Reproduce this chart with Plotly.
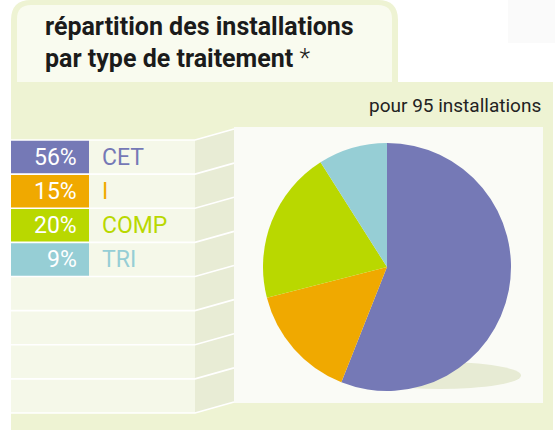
import plotly.graph_objects as go

W, H = 555, 430

categories = ["CET", "I", "COMP", "TRI"]
values = [56, 15, 20, 9]
pct_labels = ["56%", "15%", "20%", "9%"]
colors = ["#7579b6", "#f0a900", "#b9d800", "#96ced5"]
title_lines = ["répartition des installations", "par type de traitement"]
title_mark = "*"
subtitle = "pour 95 installations"

FONT = "Roboto"

def X(px):
    return px / W

def Y(py):
    return 1 - py / H

def poly(pts):
    return "M " + " L ".join(f"{X(a):.5f},{Y(b):.5f}" for a, b in pts) + " Z"

def rrect_top(x0, y0, x1, y1, r):
    # rounded top corners only
    return (f"M {X(x0):.5f},{Y(y1):.5f} L {X(x0):.5f},{Y(y0+r):.5f} "
            f"Q {X(x0):.5f},{Y(y0):.5f} {X(x0+r):.5f},{Y(y0):.5f} "
            f"L {X(x1-r):.5f},{Y(y0):.5f} "
            f"Q {X(x1):.5f},{Y(y0):.5f} {X(x1):.5f},{Y(y0+r):.5f} "
            f"L {X(x1):.5f},{Y(y1):.5f} Z")

shapes = []
def rect(x0, y0, x1, y1, color):
    shapes.append(dict(type="rect", xref="paper", yref="paper", x0=X(x0), x1=X(x1),
                       y0=Y(y1), y1=Y(y0), fillcolor=color, line=dict(width=0), layer="below"))

def path(p, color, line=None):
    shapes.append(dict(type="path", xref="paper", yref="paper", path=p, fillcolor=color,
                       line=line or dict(width=0), layer="below"))

PANEL = "#eef3d3"
# faint top-right block
rect(508, 0, 555, 43, "#fafafa")
# title tab
path(rrect_top(11, 0, 398, 90, 20), PANEL)
path(rrect_top(17, 5, 392, 82, 14), "#f9fbef")
# main panel
rect(11, 82, 553, 430, PANEL)
# pie panel
rect(234, 127, 543, 403, "#fafbf6")

# table
T_TOP, T_BOT = 140, 413
N_ROWS = 8
RH = (T_BOT - T_TOP) / N_ROWS
X0, XR, XS = 11, 195, 234
SL = 11
rect(X0, T_TOP, XR, T_BOT, "#f5f8e9")
path(poly([(XR, T_TOP), (XS, T_TOP - SL), (XS, T_BOT - SL), (XR, T_BOT)]), "#e8ecd5")
for i in range(len(categories)):
    rect(X0, T_TOP + i * RH, 89, T_TOP + (i + 1) * RH, colors[i])
for i in range(N_ROWS + 1):
    yy = T_TOP + i * RH
    shapes.append(dict(type="path", xref="paper", yref="paper",
                       path=f"M {X(X0):.5f},{Y(yy):.5f} L {X(XR):.5f},{Y(yy):.5f} L {X(XS):.5f},{Y(yy-SL):.5f}",
                       line=dict(color="white", width=1.6), layer="below"))

# shadow under pie
shapes.append(dict(type="circle", xref="paper", yref="paper", x0=X(359), x1=X(521),
                   y0=Y(389), y1=Y(362), fillcolor="#e7ebd4", line=dict(width=0), layer="below"))

annotations = []
for i, (c, p) in enumerate(zip(categories, pct_labels)):
    yc = T_TOP + (i + 0.5) * RH
    annotations.append(dict(x=X(79), y=Y(yc), xref="paper", yref="paper", text=p, showarrow=False,
                            xanchor="right", yanchor="middle",
                            font=dict(family=FONT, size=23, color="white")))
    annotations.append(dict(x=X(100), y=Y(yc), xref="paper", yref="paper", text=c, showarrow=False,
                            xanchor="left", yanchor="middle",
                            font=dict(family=FONT, size=23, color=colors[i])))

annotations.append(dict(x=X(43), y=Y(27), xref="paper", yref="paper", text=title_lines[0], showarrow=False,
                        xanchor="left", yanchor="middle",
                        font=dict(family=FONT, size=25, color="#1b1b1b", weight=700)))
annotations.append(dict(x=X(43), y=Y(58), xref="paper", yref="paper",
                        text=title_lines[1] + " <span style='font-weight:300'>" + title_mark + "</span>",
                        showarrow=False, xanchor="left", yanchor="middle",
                        font=dict(family=FONT, size=25, color="#1b1b1b", weight=700)))
annotations.append(dict(x=X(543), y=Y(105), xref="paper", yref="paper", text=subtitle, showarrow=False,
                        xanchor="right", yanchor="middle",
                        font=dict(family=FONT, size=19, color="#222222")))

CX, CY, R = 387, 267, 124
fig = go.Figure(go.Pie(
    labels=categories, values=values, sort=False, direction="clockwise", rotation=0,
    marker=dict(colors=colors, line=dict(width=0)),
    textinfo="none", hoverinfo="label+percent", showlegend=False,
    domain=dict(x=[X(CX - R), X(CX + R)], y=[Y(CY + R), Y(CY - R)]),
))
fig.update_layout(width=W, height=H, margin=dict(l=0, r=0, t=0, b=0),
                  paper_bgcolor="white", plot_bgcolor="white",
                  shapes=shapes, annotations=annotations,
                  xaxis=dict(visible=False), yaxis=dict(visible=False))
fig.write_html("out.html", config={"displayModeBar": False},
               post_script="document.body.style.margin='0';document.body.style.padding='0';")
